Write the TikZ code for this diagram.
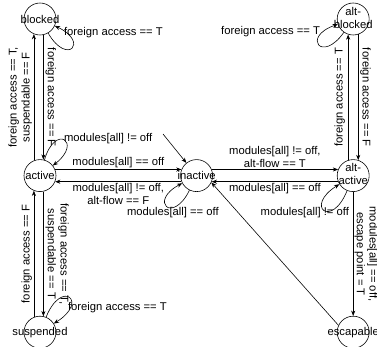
\documentclass[tikz,border=0pt]{standalone}
\usepackage{fontspec}
\setmainfont{Liberation Sans}
\usetikzlibrary{positioning,arrows.meta}

\begin{document}
\begin{tikzpicture}[>={Stealth[length=4.5pt,width=3.5pt]},x=0.03cm,y=0.03cm,node distance=3.72cm,line width=0.5pt,font=\fontsize{9.6}{11}\selectfont]
\tikzstyle{S}=[draw,circle,minimum size=0.96cm,inner sep=0pt]
\tikzstyle{L}=[inner sep=1.5pt,align=center]
\useasboundingbox (0,0) rectangle (377,-346);
\node[S] (blk) at (40,-19) {\makebox[0pt]{blocked}};
\node[S,below=of blk] (act) {\makebox[0pt]{active}};
\node[S,below=of act] (susp) {\makebox[0pt]{suspended}};
\node[S,right=of act] (inact) {\makebox[0pt]{inactive}};
\node[S,right=of inact] (altact) {\makebox[0pt]{\begin{tabular}{@{}c@{}}alt-\\active\end{tabular}}};
\node[S,above=of altact] (altblk) {\makebox[0pt]{\begin{tabular}{@{}c@{}}alt-\\blocked\end{tabular}}};
\node[S,below=of altact] (esc) {\makebox[0pt]{escapable}};
\coordinate (init) at (163,-134);
% left column
\draw[->] (act.112) -- node[L,midway,rotate=90,anchor=south] (l1) {foreign access == T,\\suspendable == F} (blk.-112);
\draw[->] (blk.-78) -- node[L,midway,rotate=-90,anchor=south] (l2) {foreign access == F} (act.78);
\draw[->] (susp.112) -- node[L,midway,rotate=90,anchor=south] (l3) {foreign access == F} (act.-112);
\draw[->] (act.-78) -- node[L,midway,rotate=-90,anchor=south] (l4) {foreign access == T,\\suspendable == T} (susp.78);
% middle row
\draw[->] (act.22) -- node[L,midway,above] (l5) {modules[all] == off} (inact.158);
\draw[->] (inact.-158) -- node[L,midway,below] (l6) {modules[all] != off,\\alt-flow == F} (act.-22);
\draw[->] (inact.22) -- node[L,midway,above] (l7) {modules[all] != off,\\alt-flow == T} (altact.158);
\draw[->] (altact.-158) -- node[L,midway,below] (l8) {modules[all] == off} (inact.-22);
% right column
\draw[->] (altact.108) -- node[L,midway,rotate=90,anchor=south,inner sep=2.5pt] (l9) {foreign access == T} (altblk.-108);
\draw[->] (altblk.-72) -- node[L,midway,rotate=-90,anchor=south] (l10) {foreign access == F} (altact.72);
\draw[->] (altact) -- node[L,midway,rotate=-90,anchor=south,inner sep=0.8pt] (l11) {modules[all] == off,\\escape point = T} (esc);
\draw[->] (esc.155) -- (inact.-25);
\draw[->] (init) -- (inact);
% self loops
\draw[->] (blk) to[out=-60,in=-25,distance=1.15cm] (blk);
\draw[->] (act) to[out=74,in=38,distance=1.15cm] (act);
\draw[->] (susp) to[out=68,in=32,distance=1.25cm] (susp);
\draw[->] (inact) to[out=-116,in=-152,distance=1.15cm] (inact);
\draw[->] (altblk) to[out=-125,in=-161,distance=1.15cm] (altblk);
\draw[->] (altact) to[out=-112,in=-148,distance=1.25cm] (altact);
\node[L,anchor=west] (lpblk) at (62,-33) {foreign access == T};
\node[L,anchor=west] (lpact) at (62,-139) {modules[all] != off};
\node[L,anchor=west] (lpsusp) at (66,-308) {foreign access == T};
\node[L,anchor=west] (lpinact) at (125,-213) {modules[all] == off};
\node[L,anchor=east] (lpaltblk) at (322,-32) {foreign access == T};
\node[L,anchor=east] (lpaltact) at (351,-213) {modules[all] != off};
\end{tikzpicture}
\end{document}
